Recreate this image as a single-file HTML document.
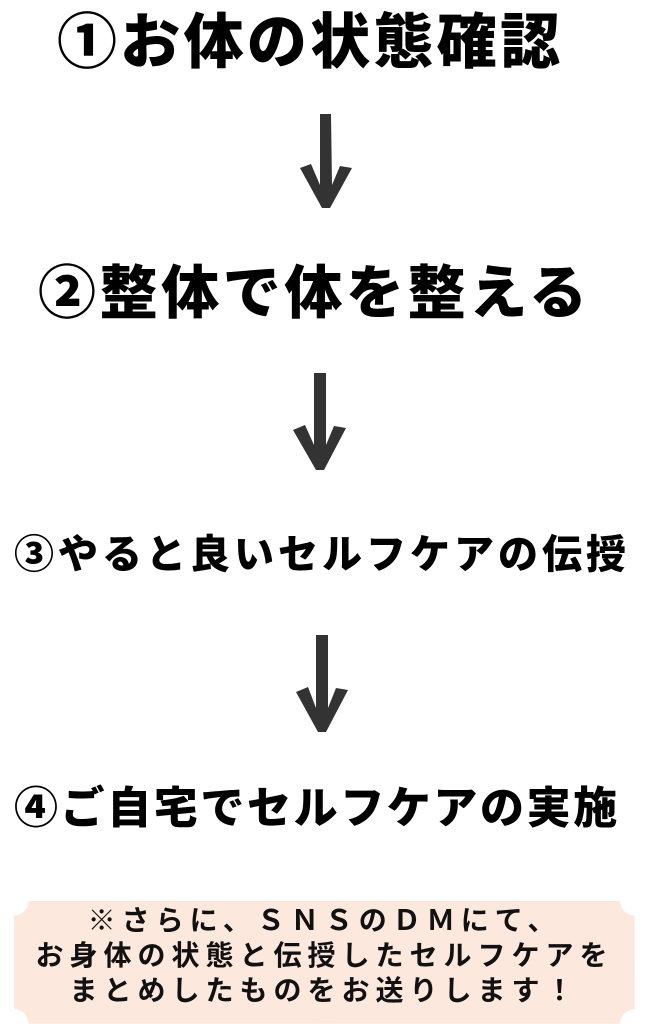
<!DOCTYPE html>
<html><head><meta charset="utf-8"><style>
body{margin:0;width:649px;height:1024px;background:#fff;position:relative;overflow:hidden;font-family:"Liberation Sans","Noto Sans CJK JP",sans-serif;}
.h{position:absolute;white-space:nowrap;font-weight:900;color:#000;line-height:1;}
.box{position:absolute;left:14px;top:901px;width:621px;height:123px;background:#fce8dd;
-webkit-mask:radial-gradient(circle at 0 0,transparent 14px,#000 15px) top left/51% 51% no-repeat,radial-gradient(circle at 100% 0,transparent 14px,#000 15px) top right/51% 51% no-repeat,radial-gradient(circle at 0 100%,transparent 14px,#000 15px) bottom left/51% 51% no-repeat,radial-gradient(circle at 100% 100%,transparent 14px,#000 15px) bottom right/51% 51% no-repeat;}
.t{position:absolute;left:0;width:649px;text-align:center;font-weight:700;font-size:28px;letter-spacing:6px;line-height:35px;top:903px;color:#111;}
</style></head><body>
<div class="h" style="left:57px;top:13px;font-size:60px;letter-spacing:3.3px">①お体の状態確認</div>
<div class="h" style="left:38px;top:265px;font-size:58px;letter-spacing:3.6px">②整体で体を整える</div>
<div class="h" style="left:14px;top:535px;font-size:40px;letter-spacing:4px">③やると良いセルフケアの伝授</div>
<div class="h" style="left:14px;top:787px;font-size:44px;letter-spacing:2.6px">④ご自宅でセルフケアの実施</div>
<svg style="position:absolute;left:0;top:0" width="649" height="900">
<g fill="#333">
<path d="M320 114 L331 114 L332 185 L340 166 L352 168 L330 208 L322 208 L300 168 L311 164 L320 185 Z"/>
<path d="M314 373 L326 373 L326 445 L334 426 L346 428 L324 470 L316 470 L293 430 L305 425 L314 445 Z"/>
<path d="M316 635 L328 635 L328 708 L336 688 L348 690 L326 732 L318 732 L296 692 L308 687 L316 708 Z"/>
</g></svg>
<div class="box"></div>
<div class="t">※さらに、ＳＮＳのＤＭにて、<br>お身体の状態と伝授したセルフケアを<br>まとめしたものをお送りします！</div>
</body></html>
